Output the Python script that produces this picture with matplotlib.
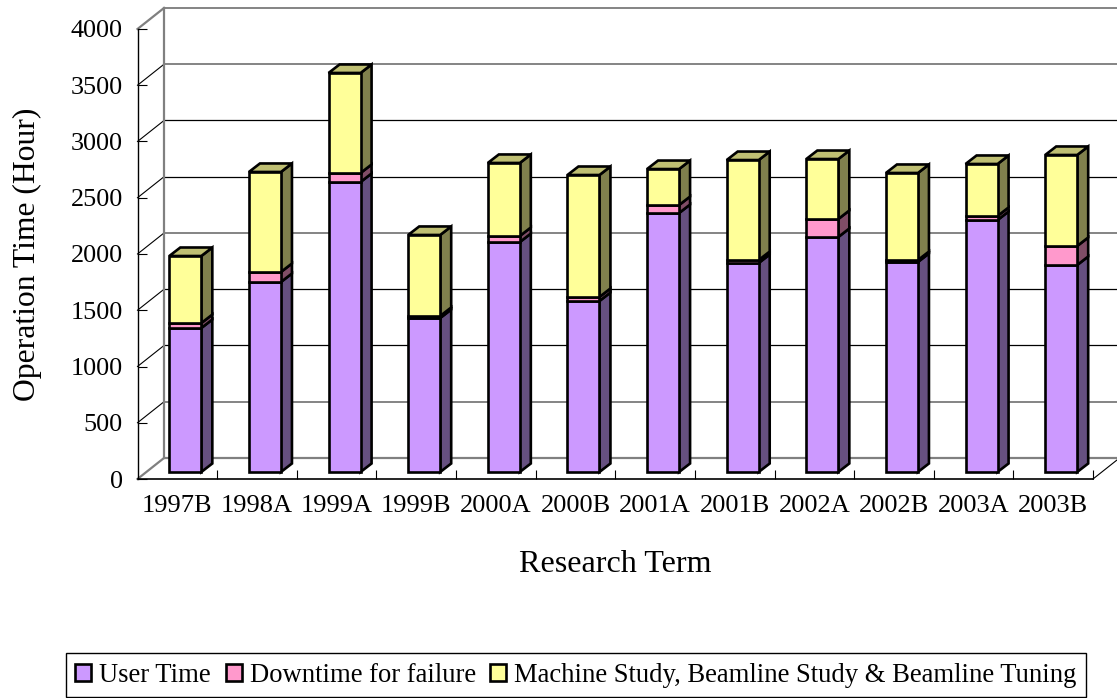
import matplotlib
matplotlib.use('Agg')
import numpy as np
import matplotlib.pyplot as plt
from matplotlib.patches import Polygon, Patch

plt.rcParams['font.family'] = ['Liberation Serif', 'DejaVu Serif']

terms = ['1997B', '1998A', '1999A', '1999B', '2000A', '2000B',
         '2001A', '2001B', '2002A', '2002B', '2003A', '2003B']
user_time = [1280, 1689, 2578, 1369, 2044, 1520, 2302, 1858, 2089, 1867, 2240, 1840]
downtime = [44, 89, 80, 18, 54, 36, 71, 26, 160, 17, 36, 169]
machine = [596, 889, 889, 720, 649, 1084, 320, 889, 533, 774, 462, 809]
y_levels = [0, 500, 1000, 1500, 2000, 2500, 3000, 3500, 4000]

W, H = 1117, 698
fig = plt.figure(figsize=(W/100, H/100), dpi=100)
# front plane of the fake 3d box, in pixels
left, right, top, bottom = 137.5, 1093, 29, 479
ax = fig.add_axes([left/W, 1-bottom/H, (right-left)/W, (bottom-top)/H])
ax.set_xlim(0, 12)
ax.set_ylim(0, 4000)
ax.patch.set_visible(False)

# depth offsets in data units
wall_dx, wall_dy = 26.5/79.6, 21/0.1125
bar_dx, bar_dy = 8/79.6, 7/0.1125
side_dx, side_dy = 11/79.6, 8.5/0.1125
bar_w = 32/79.6

grey = '#808080'
# back wall
for lv in y_levels:
    if lv == 0:
        c, lw = grey, 1.6
    elif lv == 4000 or lv == 3500 or lv == 2000 or lv == 500:
        c, lw = '#707070', 1.2
    else:
        c, lw = 'black', 0.9
    ax.plot([wall_dx, 12+wall_dx], [lv+wall_dy]*2, color=c, lw=lw, clip_on=False, zorder=1, solid_capstyle='butt')
    dc = grey if lv in (0, 4000) else 'black'
    ax.plot([0, wall_dx], [lv, lv+wall_dy], color=dc, lw=1.6 if lv in (0, 4000) else 0.8, clip_on=False, zorder=1)
ax.plot([wall_dx, wall_dx], [wall_dy, 4000+wall_dy], color=grey, lw=1.6, clip_on=False, zorder=1)
ax.plot([12, 12+wall_dx], [0, wall_dy], color='black', lw=0.8, clip_on=False, zorder=1)

colors = ['#CC99FF', '#FF99CC', '#FFFF99']
sides = ['#665080', '#804D66', '#80804D']
top_color = '#BFBF73'
series = [user_time, downtime, machine]
x = np.arange(12) + 0.5 + bar_dx
base = np.full(12, bar_dy, dtype=float)
edge = dict(edgecolor='black', linewidth=1.9, joinstyle='miter', clip_on=False)
for vals, c, s in zip(series, colors, sides):
    vals = np.array(vals, dtype=float)
    ax.bar(x, vals, bar_w, bottom=base, color=c, zorder=3, **edge)
    for xi, b, v in zip(x, base, vals):
        xr = xi + bar_w/2
        ax.add_patch(Polygon([(xr, b), (xr+side_dx, b+side_dy), (xr+side_dx, b+v+side_dy), (xr, b+v)],
                             facecolor=s, zorder=2.5, **edge))
    base = base + vals
for xi, b in zip(x, base):
    xl, xr = xi-bar_w/2, xi+bar_w/2
    ax.add_patch(Polygon([(xl, b), (xr, b), (xr+side_dx, b+side_dy), (xl+side_dx, b+side_dy)],
                         facecolor=top_color, zorder=2.5, **edge))

for sp in ['top', 'right']:
    ax.spines[sp].set_visible(False)
ax.spines['left'].set_linewidth(1.0)
ax.spines['bottom'].set_linewidth(1.2)
ax.set_yticks(y_levels)
ax.set_xticks(np.arange(1, 13))
ax.set_xticklabels([])
ax.tick_params(axis='y', direction='in', length=6.5, width=0.8, labelsize=18.8, pad=10.5)
ax.tick_params(axis='x', direction='in', length=6.5, width=0.8)
# term labels sit at the category centres
for i, t in enumerate(terms):
    ax.text(i+0.5, -140, t, ha='center', va='top', fontsize=19)

fig.text(615.5/W, 1-564/H, 'Research Term', ha='center', va='center', fontsize=23.1)
fig.text(27/W, 1-254/H, 'Operation Time (Hour)', ha='center', va='center', rotation=90, fontsize=22.8)

handles = [Patch(facecolor=c, edgecolor='black', linewidth=1.9) for c in colors]
labels = ['User Time', 'Downtime for failure', 'Machine Study, Beamline Study & Beamline Tuning']
leg = fig.legend(handles, labels, ncol=3, loc='center', bbox_to_anchor=(576/W, 1-675/H),
                 fontsize=19.2, frameon=True, fancybox=False, edgecolor='black', framealpha=1,
                 handlelength=0.6, handleheight=0.6, handletextpad=0.3, columnspacing=0.55,
                 borderpad=0.35, borderaxespad=0)
leg.get_frame().set_linewidth(1.0)

fig.savefig('out.png', dpi=100)
